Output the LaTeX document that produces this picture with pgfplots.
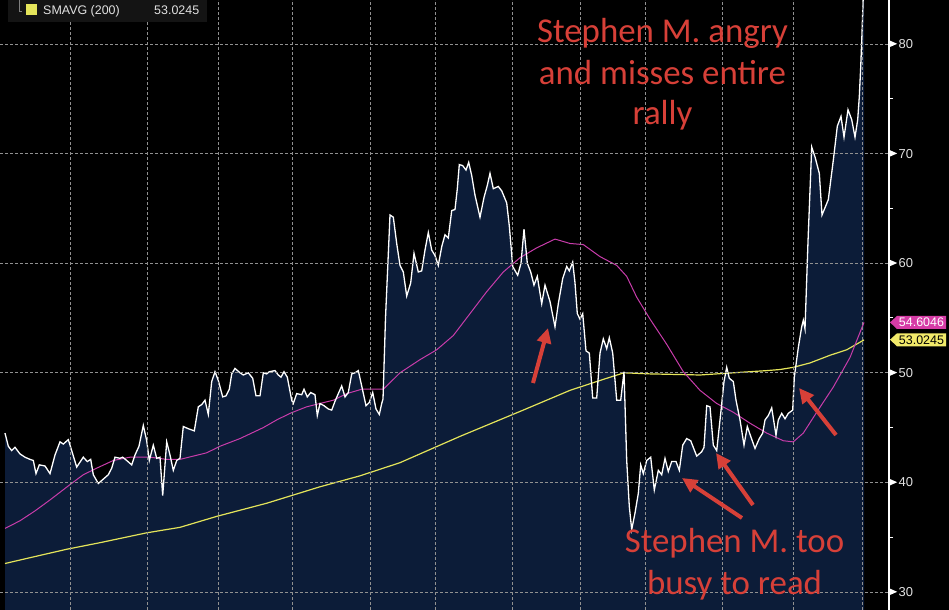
\documentclass[border=0pt]{standalone}
\usepackage{fontspec}
\setmainfont{Liberation Sans}
\newfontfamily\calibri{Carlito}
\usepackage{pgfplots}
\usepackage{pgfplotstable}
\pgfplotsset{compat=1.18}
\usetikzlibrary{arrows.meta}

\definecolor{navyfill}{RGB}{12,28,56}
\definecolor{magline}{RGB}{200,60,170}
\definecolor{magtag}{RGB}{214,60,166}
\definecolor{yelline}{RGB}{228,228,90}
\definecolor{yeltag}{RGB}{242,234,106}
\definecolor{gridc}{RGB}{145,145,145}
\definecolor{annred}{RGB}{215,64,56}
\definecolor{legbox}{RGB}{20,20,20}
\definecolor{lbl}{RGB}{225,225,225}

\pgfplotstableread{
x y
5 44.5
8.3 43.3
11.7 42.9
15 43.2
20 42.6
25 42.3
30 42.1
33.3 42.0
36 40.8
39.3 41.6
45 41.5
50 40.8
55 42.5
60 43.7
63.3 43.5
68.3 43.9
71.7 42.9
76.7 41.4
83.3 42.3
87.3 41.9
90.7 42.1
93.3 40.7
98.3 39.9
103.3 40.3
108.3 40.7
111.7 41.3
115 42.3
120 42.2
122.7 42.3
126.7 42.0
131.7 41.6
135 42.5
139 43.3
143.3 45.2
146.7 43.8
149.3 42.0
153.3 43.4
156.7 42.2
160 42.3
162.7 38.8
166.7 43.7
170 42.5
173.3 41.1
176.7 42.0
180 42.2
183.3 45.1
188.3 44.9
194.3 44.7
198.3 46.9
201.7 47.1
205 47.5
208.3 46.2
211.7 49.2
215 50.1
218.3 49.3
222.7 47.8
226 47.9
229.3 48.5
231.7 49.9
235 50.4
240 50.0
243.3 49.8
248.3 50.0
252.7 49.5
256 47.9
260 47.9
263.3 50.0
266.7 49.9
269.3 50.1
275 50.2
278.3 49.8
281 49.6
284 50.1
287.3 49.6
291.7 47.5
293.3 47.2
296.7 48.1
301.7 48.0
304 48.5
307.3 47.8
310.7 48.2
315 48.0
317.3 46.1
320 47.2
324 47.0
328.3 46.7
331.7 46.6
335 47.4
338.3 48.1
341.7 48.8
345 47.8
348.3 48.2
351.7 49.9
355 50.0
358.3 50.2
361.7 48.8
366 47.0
369.3 47.3
372.7 48.2
376 46.7
379.3 46.2
381.7 47.2
383 47.6
385.5 55.0
390 64.4
393.3 64.2
396.7 61.8
400 59.8
403.3 59.2
406.7 57.0
410.7 58.2
414 60.9
418.3 59.2
421.7 59.3
425 61.2
428.3 62.8
431.7 61.2
435 60.7
438.3 59.8
441.7 61.5
445 62.6
448.3 62.3
451.7 64.8
455 64.9
457.3 66.8
459.3 69.0
462.7 68.9
466 68.5
468.7 69.2
471.7 68.0
475 66.2
480 64.2
484 66.0
487.3 67.1
490 68.2
493.3 66.8
498.3 67.0
501.7 66.6
506.7 65.5
509.3 63.4
512.7 59.7
517.7 58.9
521 60.0
524 63.1
527.3 60.0
530.7 59.2
534 58.0
537.3 58.8
541.7 56.3
545 58.0
550 56.5
555 54.2
558.3 56.3
562.7 58.6
566.7 59.7
569.3 59.3
572.7 60.1
575 58.2
577.3 55.4
580 54.9
582.7 55.4
586 52.0
589.3 51.8
592.7 47.7
596.7 47.7
600 51.8
603.3 53.1
606.7 52.2
609.3 53.2
612.7 51.8
616.7 47.5
620.7 47.5
624 50.1
626.7 42.0
629.3 37.8
631.7 35.7
635 37.2
638.3 39.0
640.7 41.6
643.3 40.8
646.7 42.0
650.7 42.3
654.3 39.3
658.3 41.1
661.7 40.7
665 42.2
668.3 41.0
671.7 41.9
676 41.9
679.3 41.1
682.7 43.4
686.7 44.0
690.7 43.8
696.7 42.4
701.7 42.8
704 43.2
706.7 47.0
710 46.9
713.3 43.4
716.7 42.9
720.7 46.3
724 49.2
726.7 50.5
729.3 49.5
733.3 49.2
736 47.5
740 45.7
744 43.4
747.3 45.1
750.7 44.2
755 43.1
759.3 44.0
762.7 44.5
765 45.7
768.3 46.1
771.7 46.8
776 44.3
778.3 45.7
781.7 46.3
785 45.8
788.3 46.3
792.7 46.6
794.3 49.6
798.3 52.3
801.7 54.2
803.3 54.8
805 54.0
808 62.0
811.7 70.6
815 69.7
819.3 68.2
822 64.4
828.3 65.8
833.3 69.4
837.3 72.5
841 73.4
844 71.5
848 74.0
851.7 73.1
855 71.5
857.7 73.1
859.3 75.2
860.7 77.9
862 81.0
863.3 84.5
864 86.0
}\price

\pgfplotstableread{
x y
5 35.8
20 36.5
35 37.4
50 38.4
70 39.8
83.3 40.7
96.7 41.3
113.3 42.0
130 42.3
150 42.3
166.7 42.1
180 42.1
193.3 42.4
206.7 42.7
220 43.3
240 44.0
263.3 45.0
276.7 45.7
290 46.3
306.7 46.9
320 47.2
333.3 47.5
346.7 48.1
361.7 48.5
383.3 48.5
400 50.0
420 51.2
436.7 52.1
453.3 53.4
470 55.4
486.7 57.4
503.3 59.2
520 60.5
536.7 61.4
555 62.2
570 61.8
583.3 61.7
600 60.6
616.7 59.8
626.7 58.8
636.7 56.9
650 54.9
666.7 52.6
683.3 50.1
700 48.4
716.7 47.2
733.3 46.4
750 45.4
766.7 44.5
783.3 43.8
793.3 43.7
803.3 44.5
816.7 46.4
833.3 48.7
850 51.4
864 54.6
}\mavgfast

\pgfplotstableread{
x y
5 32.6
33.3 33.2
66.7 33.9
100 34.5
146.7 35.4
180 35.9
216.7 36.9
266.7 38.1
320 39.6
360 40.6
400 41.8
460 44.2
523.3 46.6
570 48.4
603.3 49.4
624 50.0
650 49.9
700 49.8
733.3 50.0
766.7 50.2
780 50.3
793.3 50.5
810 50.9
830 51.6
846.7 52.1
864 53.0
}\smavg

\begin{document}
\begin{tikzpicture}
\useasboundingbox (0,0) rectangle (949bp,610bp);
\fill[black] (0,0) rectangle (949bp,610bp);
\begin{axis}[
  at={(0,0)}, anchor=south west,
  scale only axis, width=889bp, height=610bp,
  xmin=0, xmax=889, ymin=28.358, ymax=84.015,
  axis line style={draw=none},
  axis on top,
  xtick={70,147,218,292,370,435,512,580,645,722,793,862},
  xticklabels={},
  ytick={30,40,50,60,70,80},
  minor ytick={35,45,55,65,75},
  ytick pos=right, yticklabel pos=right,
  tick align=outside,
  major tick length=0pt,
  minor tick length=4bp,
  tick style={white, line width=1bp},
  grid=major,
  major grid style={draw=gridc, dash pattern=on 2.5bp off 2.5bp, line width=0.7bp},
  yticklabel={\tikz[baseline=0pt]\fill[white] (0,1.15bp)--(0,8.15bp)--(8bp,4.65bp)--cycle;\hspace{1.5bp}\pgfmathprintnumber[assume math mode=true]{\tick}},
  yticklabel style={anchor=west, inner sep=0pt, text=lbl, font=\fontsize{13}{15}\selectfont},
]
\addplot[draw=none, fill=navyfill] table[x=x,y=y]{\price} \closedcycle;
\addplot[yelline, line width=1.2bp] table[x=x,y=y]{\smavg};
\addplot[magline, line width=1bp] table[x=x,y=y]{\mavgfast};
\addplot[white, line width=1.3bp] table[x=x,y=y]{\price};
\end{axis}
\begin{scope}[yshift=610bp, x=1bp, y=-1bp]
  % right axis line
  \draw[white, line width=1.2bp] (889,0) -- (889,610);
  % legend box
  \fill[legbox] (8,0) rectangle (207,22);
  \draw[gray, line width=0.8bp] (19,0) -- (19,11) -- (22,11);
  \fill[yelline] (26,4.5) rectangle (37,15);
  \node[anchor=base west, inner sep=0pt, text=lbl, font=\fontsize{12.5}{14}\selectfont] at (43,14.5) {SMAVG (200)};
  \node[anchor=base west, inner sep=0pt, text=lbl, font=\fontsize{12.5}{14}\selectfont] at (154,14.5) {53.0245};
  % value tags
  \fill[magtag] (890,322.4) -- (897,316) -- (946,316) -- (946,329) -- (897,329) -- cycle;
  \node[inner sep=0pt, text=white, font=\fontsize{12.5}{14}\selectfont] at (921.5,322.6) {54.6046};
  \fill[yeltag] (890,339.7) -- (897,333.3) -- (946,333.3) -- (946,346.3) -- (897,346.3) -- cycle;
  \node[inner sep=0pt, text=black, font=\fontsize{12.5}{14}\selectfont] at (921.5,339.9) {53.0245};
  % annotations
  \begin{scope}[every node/.style={anchor=base, inner sep=0pt, text=annred, font=\calibri\fontsize{35}{40}\selectfont}]
    \node at (662.5,43) {Stephen M. angry};
    \node at (662.5,85) {and misses entire};
    \node at (662.5,125) {rally};
    \node at (734.5,553) {Stephen M. too};
    \node at (734.5,595) {busy to read};
  \end{scope}
  \begin{scope}[annred, line width=4bp, -{Triangle[length=15bp,width=14bp]}]
    \draw (533,383) -- (548,328);
    \draw (742,518) -- (682,478);
    \draw (753,505) -- (716,453);
    \draw (836,435) -- (799,388);
  \end{scope}
\end{scope}
\end{tikzpicture}
\end{document}
